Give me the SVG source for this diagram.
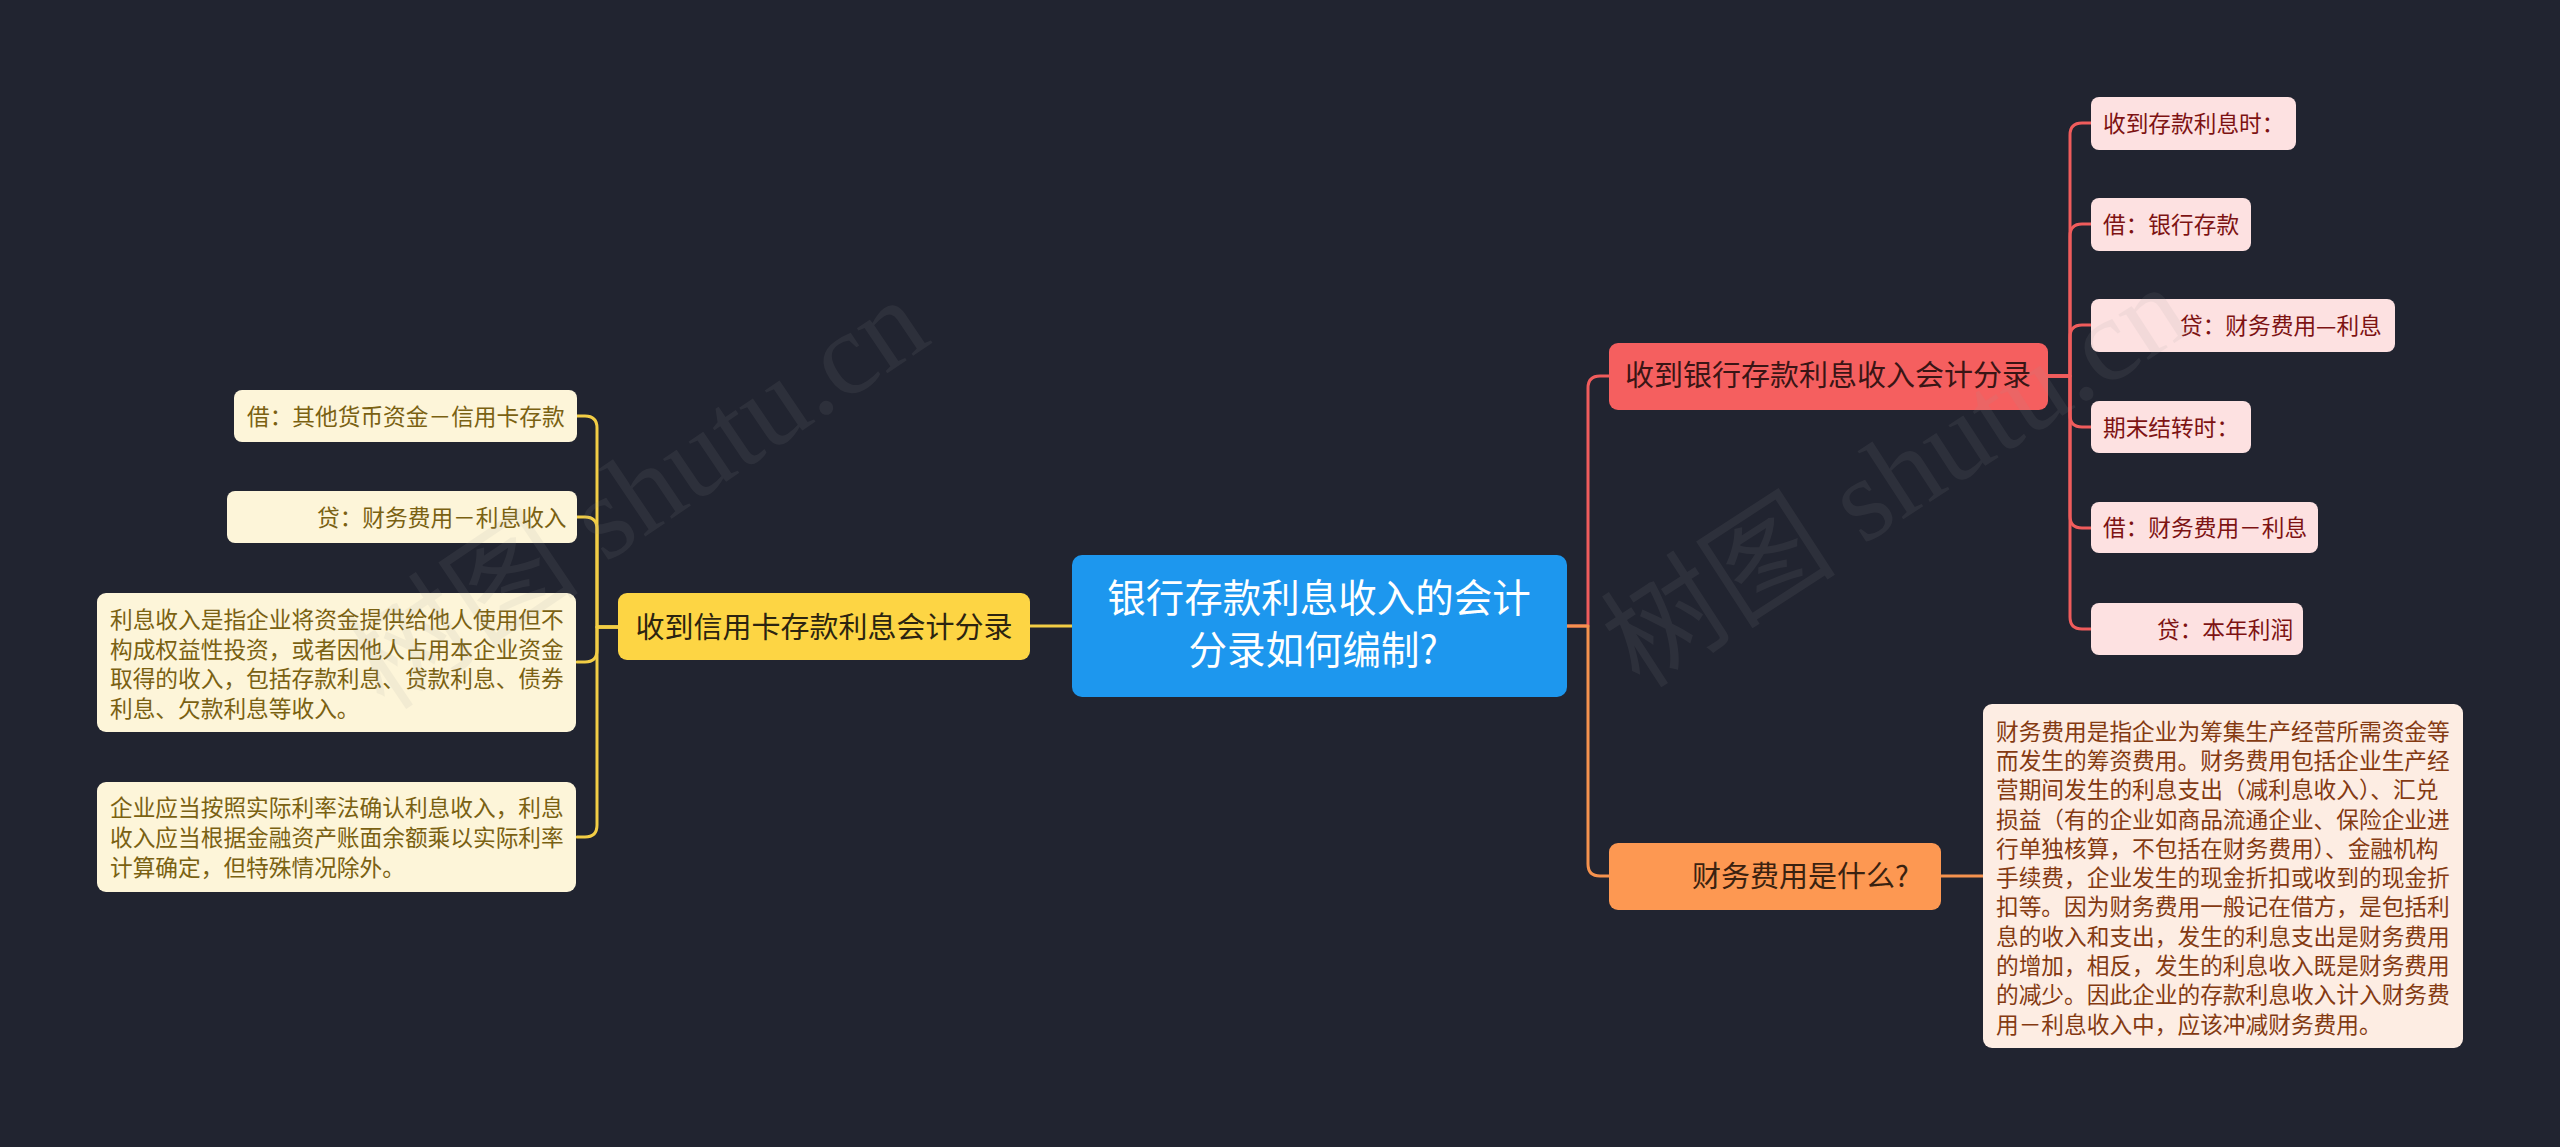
<svg xmlns="http://www.w3.org/2000/svg" width="2560" height="1147" viewBox="0 0 2560 1147">
<style>
text{font-family:"Noto Sans CJK SC","Noto Sans",sans-serif;}
.c{fill:none;stroke-width:3;stroke-linecap:round;stroke-linejoin:round}
.cr{stroke:#f05c5c}.cy{stroke:#f2cd45}.co{stroke:#f5924e}
.root rect{fill:#1d97ee}
.root text{fill:#ffffff;font-size:38.5px;text-anchor:middle}
.n1 text{font-size:29px}
.lr rect{fill:#fde1e1}.lr text{fill:#7d1313;font-size:22.7px}
.ly rect{fill:#fdf5d9}.ly text{fill:#7a6112;font-size:22.7px}
.lo rect{fill:#fdede3}.lo text{fill:#843a12;font-size:22.7px}
.wm{font-family:"Liberation Serif","Noto Sans CJK SC",serif;font-size:118px;fill:#9a9a9a;opacity:0.1}
</style>
<rect x="0" y="0" width="2560" height="1147" fill="#212430"/>
<g id="connectors">
<path class="c cr" d="M1567 626 H1588 V388 Q1588 376 1600 376 H1609"/>
<path class="c co" d="M1567 626 H1588 V864 Q1588 876 1600 876 H1609"/>
<path class="c cy" d="M1072 626 H1030"/>
<path class="c co" d="M1941 876 H1983"/>
<path class="c cr" d="M2048 376 H2070 V135 Q2070 123 2082 123 H2091"/>
<path class="c cr" d="M2048 376 H2070 V236 Q2070 224 2082 224 H2091"/>
<path class="c cr" d="M2048 376 H2070 V337 Q2070 325 2082 325 H2091"/>
<path class="c cr" d="M2048 376 H2070 V415 Q2070 427 2082 427 H2091"/>
<path class="c cr" d="M2048 376 H2070 V516 Q2070 528 2082 528 H2091"/>
<path class="c cr" d="M2048 376 H2070 V617 Q2070 629 2082 629 H2091"/>
<path class="c cy" d="M618 627 H597 V428 Q597 416 585 416 H577"/>
<path class="c cy" d="M618 627 H597 V529 Q597 517 585 517 H577"/>
<path class="c cy" d="M618 627 H597 V650 Q597 662 585 662 H577"/>
<path class="c cy" d="M618 627 H597 V825 Q597 837 585 837 H577"/>
</g>
<g id="root" class="root">
<rect x="1072" y="555" width="495" height="142" rx="10"/>
<text x="1319" y="612">银行存款利息收入的会计</text>
<text x="1313" y="664">分录如何编制?</text>
</g>
<g id="n-bank" class="n1">
<rect x="1609" y="343" width="439" height="67" rx="9" fill="#f55f5f"/>
<text x="1828" y="386" text-anchor="middle" fill="#3a1515">收到银行存款利息收入会计分录</text>
</g>
<g id="n-fee" class="n1">
<rect x="1609" y="843" width="332" height="67" rx="9" fill="#fd9852"/>
<text x="1692" y="887" fill="#3a2210">财务费用是什么?</text>
</g>
<g id="n-card" class="n1">
<rect x="618" y="593" width="412" height="67" rx="9" fill="#fdd544"/>
<text x="824" y="638" text-anchor="middle" fill="#2c2410">收到信用卡存款利息会计分录</text>
</g>
<g id="r1" class="lr"><rect x="2091" y="97" width="205" height="53" rx="8"/><text x="2103" y="132">收到存款利息时：</text></g>
<g id="r2" class="lr"><rect x="2091" y="198" width="160" height="53" rx="8"/><text x="2103" y="233">借：银行存款</text></g>
<g id="r3" class="lr"><rect x="2091" y="299" width="304" height="53" rx="8"/><text x="2180" y="334">贷：财务费用—利息</text></g>
<g id="r4" class="lr"><rect x="2091" y="401" width="160" height="52" rx="8"/><text x="2103" y="435.5">期末结转时：</text></g>
<g id="r5" class="lr"><rect x="2091" y="502" width="227" height="51" rx="8"/><text x="2103" y="536">借：财务费用－利息</text></g>
<g id="r6" class="lr"><rect x="2091" y="603" width="212" height="52" rx="8"/><text x="2157" y="637.5">贷：本年利润</text></g>
<g id="o1" class="lo">
<rect x="1983" y="704" width="480" height="344" rx="9"/>
<text x="1996" y="739.6">财务费用是指企业为筹集生产经营所需资金等</text>
<text x="1996" y="768.9">而发生的筹资费用。财务费用包括企业生产经</text>
<text x="1996" y="798.2">营期间发生的利息支出（减利息收入）、汇兑</text>
<text x="1996" y="827.5">损益（有的企业如商品流通企业、保险企业进</text>
<text x="1996" y="856.8">行单独核算，不包括在财务费用）、金融机构</text>
<text x="1996" y="886.1">手续费，企业发生的现金折扣或收到的现金折</text>
<text x="1996" y="915.4">扣等。因为财务费用一般记在借方，是包括利</text>
<text x="1996" y="944.7">息的收入和支出，发生的利息支出是财务费用</text>
<text x="1996" y="974">的增加，相反，发生的利息收入既是财务费用</text>
<text x="1996" y="1003.3">的减少。因此企业的存款利息收入计入财务费</text>
<text x="1996" y="1032.6">用－利息收入中，应该冲减财务费用。</text>
</g>
<g id="y1" class="ly"><rect x="234" y="390" width="343" height="52" rx="8"/><text x="247" y="424.5">借：其他货币资金－信用卡存款</text></g>
<g id="y2" class="ly"><rect x="227" y="491" width="350" height="52" rx="8"/><text x="317" y="525.5">贷：财务费用－利息收入</text></g>
<g id="y3" class="ly">
<rect x="97" y="593" width="479" height="139" rx="9"/>
<text x="110" y="628">利息收入是指企业将资金提供给他人使用但不</text>
<text x="110" y="657.7">构成权益性投资，或者因他人占用本企业资金</text>
<text x="110" y="687.4">取得的收入，包括存款利息、贷款利息、债券</text>
<text x="110" y="717">利息、欠款利息等收入。</text>
</g>
<g id="y4" class="ly">
<rect x="97" y="782" width="479" height="110" rx="9"/>
<text x="110" y="815.6">企业应当按照实际利率法确认利息收入，利息</text>
<text x="110" y="845.6">收入应当根据金融资产账面余额乘以实际利率</text>
<text x="110" y="875.6">计算确定，但特殊情况除外。</text>
</g>
<text class="wm" transform="translate(385 712) rotate(-34)">树图 shutu.cn</text>
<text class="wm" transform="translate(1640 690) rotate(-33)">树图 shutu.cn</text>
</svg>
